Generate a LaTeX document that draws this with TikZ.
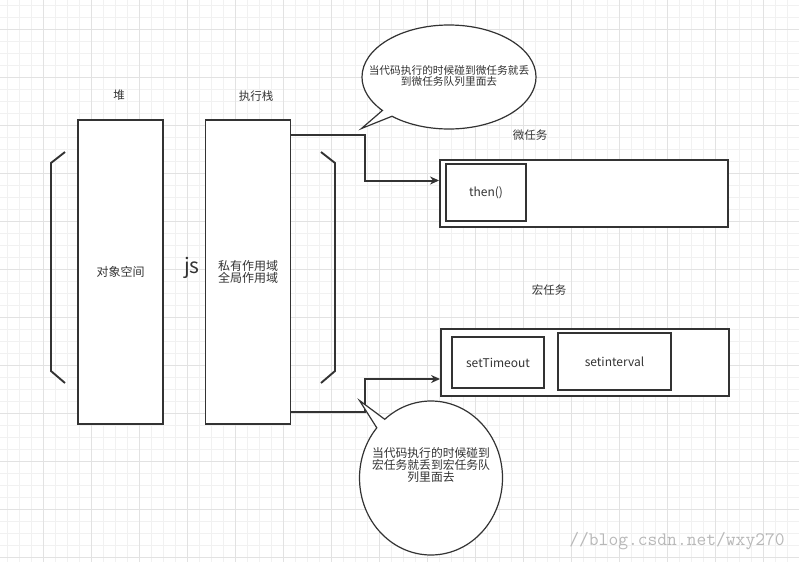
\documentclass[tikz,border=0pt]{standalone}
\usepackage{fontspec}
\newfontfamily\cjk{Noto Sans CJK SC}
\usetikzlibrary{shapes.callouts,arrows.meta}
\definecolor{ink}{HTML}{333333}
\definecolor{gridminor}{HTML}{F1F1F1}
\definecolor{gridmajor}{HTML}{E2E2E2}

\tikzset{
  box/.style={draw=ink, line width=1.9pt, fill=white, inner sep=0pt, align=center},
  flow/.style={draw=ink, line width=2pt, ->},
  bubble/.style={ellipse callout, draw=ink, line width=1.2pt, fill=white, inner sep=0pt},
  caption/.style={text=ink, font=\cjk\fontsize{11.5}{12}\selectfont}
}

\begin{document}
\begin{tikzpicture}[x=1pt,y=-1pt,>={Stealth[length=9pt,width=8pt]},
    every node/.style={font=\cjk\fontsize{12}{11.7}\selectfont, text=ink}]
  \useasboundingbox (0,0) rectangle (799,562);

  % background grid
  \foreach \gx in {0,...,66}
    \draw[gridminor, line width=0.8pt] ({7.3+12*\gx},0) -- ({7.3+12*\gx},562);
  \foreach \gy in {0,...,46}
    \draw[gridminor, line width=0.8pt] (0,{5.3+12*\gy}) -- (799,{5.3+12*\gy});
  \foreach \gx in {0,...,16}
    \draw[gridmajor, line width=0.8pt] ({43.3+48*\gx},0) -- ({43.3+48*\gx},562);
  \foreach \gy in {0,...,11}
    \draw[gridmajor, line width=0.8pt] (0,{29.3+48*\gy}) -- (799,{29.3+48*\gy});

  % heap and stack
  \node[caption] (heaplbl) at (119,95) {堆};
  \node[caption] (stacklbl) at (256,96) {执行栈};
  \node[box, minimum width=85, minimum height=304] (heap) at (120.5,272) {对象空间};
  \node[box, minimum width=85, minimum height=304] (stack) at (248,272) {私有作用域\\全局作用域};
  \node[font=\cjk\fontsize{21}{22}\selectfont] (js) at (192,268) {js};

  \draw[ink, line width=1.9pt] (65,152) -- (51,163) -- (51,371) -- (65,383);
  \draw[ink, line width=1.9pt] (321,152) -- (335,163) -- (335,371) -- (321,383);

  % task queues
  \node[caption] (microlbl) at (530,135) {微任务};
  \node[box, minimum width=288, minimum height=67] (micro) at (584,193.5) {};
  \node[box, minimum width=80, minimum height=57] (then) at (486,192.5) {then()};

  \node[caption] (macrolbl) at (549,290) {宏任务};
  \node[box, minimum width=288, minimum height=67] (macro) at (585,362.5) {};
  \node[box, minimum width=92, minimum height=51] (timeout) at (498,362.5) {setTimeout};
  \node[box, minimum width=113, minimum height=57] (interval) at (614.5,361.5) {setinterval};

  \draw[flow] ([yshift=-16pt]stack.north east) -- ++(74,0) |- ([yshift=13pt]micro.west);
  \draw[flow] ([yshift=13pt]stack.south east) -- ++(74,0) |- ([yshift=-16.5pt]macro.west);

  % callouts
  \node[bubble, minimum width=174, minimum height=104,
        callout absolute pointer={(361.5,128.5)}, callout pointer arc=9,
        label={[align=center, yshift=1pt, font=\cjk\fontsize{10.7}{11.5}\selectfont]center:当代码执行的时候碰到微任务就丢\\到微任务队列里面去}]
        (bub1) at (449,77) {};
  \node[bubble, minimum width=143, minimum height=154,
        callout absolute pointer={(359.5,400.5)}, callout pointer arc=9,
        label={[align=center, yshift=13pt, font=\cjk\fontsize{11.8}{12}\selectfont]center:当代码执行的时候碰到\\宏任务就丢到宏任务队\\列里面去}]
        (bub2) at (431,478) {};

  \node[font=\ttfamily\fontsize{19}{20}\selectfont, text=black!28] (mark) at (677,541) {//blog.csdn.net/wxy270};
\end{tikzpicture}
\end{document}
